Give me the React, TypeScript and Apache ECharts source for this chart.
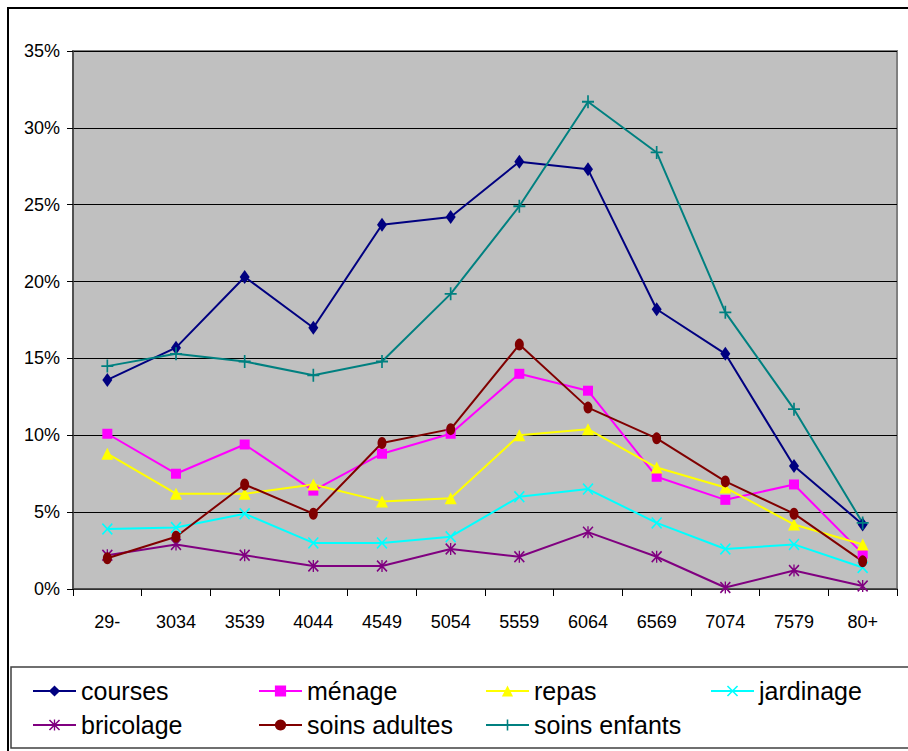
import React, { useEffect, useRef } from "react";
import * as echarts from "echarts";

const categories = ["29-", "3034", "3539", "4044", "4549", "5054", "5559", "6064", "6569", "7074", "7579", "80+"];
const courses = [13.6, 15.7, 20.3, 17.0, 23.7, 24.2, 27.8, 27.3, 18.2, 15.3, 8.0, 4.2];
const menage = [10.1, 7.5, 9.4, 6.4, 8.8, 10.1, 14.0, 12.9, 7.3, 5.8, 6.8, 2.3];
const repas = [8.8, 6.2, 6.2, 6.8, 5.7, 5.9, 10.0, 10.4, 7.9, 6.6, 4.2, 2.9];
const jardinage = [3.9, 4.0, 4.9, 3.0, 3.0, 3.4, 6.0, 6.5, 4.3, 2.6, 2.9, 1.4];
const bricolage = [2.2, 2.9, 2.2, 1.5, 1.5, 2.6, 2.1, 3.7, 2.1, 0.1, 1.2, 0.2];
const soinsAdultes = [2.0, 3.4, 6.8, 4.9, 9.5, 10.4, 15.9, 11.8, 9.8, 7.0, 4.9, 1.8];
const soinsEnfants = [14.5, 15.3, 14.8, 13.9, 14.8, 19.2, 24.9, 31.7, 28.4, 18.0, 11.7, 4.3];

const seriesNames = ["courses", "ménage", "repas", "jardinage", "bricolage", "soins adultes", "soins enfants"];
const seriesData = [courses, menage, repas, jardinage, bricolage, soinsAdultes, soinsEnfants];
const seriesColors = ["#000080", "#FF00FF", "#FFFF00", "#00FFFF", "#800080", "#800000", "#008080"];

const X_PATH = "path://M0,1L1,0L10,9L9,10ZM9,0L10,1L1,10L0,9Z";
const PLUS_PATH = "path://M4.3,0H5.7V4.3H10V5.7H5.7V10H4.3V5.7H0V4.3H4.3Z";
const STAR_PATH = "path://M0,1L1,0L10,9L9,10ZM9,0L10,1L1,10L0,9ZM4.4,0H5.6V10H4.4Z";
const seriesSymbols = ["diamond", "rect", "triangle", X_PATH, STAR_PATH, "circle", PLUS_PATH];
const seriesSymbolSizes: any[] = [[10, 14], [10, 10], [12, 12], [11, 12], [11, 12], [9, 12], [12, 13]];

const FONT = "'Liberation Sans', Arial, sans-serif";
const TICK_FONT = 18;
const LEGEND_FONT = 25;

const legendLefts = [32, 258, 485, 710, 32, 258, 485];
const legendCenters = [691, 691, 691, 691, 725, 725, 725];

export default function App() {
  const ref = useRef<HTMLDivElement>(null);
  useEffect(() => {
    if (!ref.current) return;
    const chart = echarts.init(ref.current, undefined, { renderer: "svg" });
    chart.setOption({
      animation: false,
      backgroundColor: "#FFFFFF",
      graphic: [
        {
          type: "rect",
          shape: { x: 8, y: 8, width: 1000, height: 1000 },
          style: { fill: "none", stroke: "#000000", lineWidth: 2 },
          silent: true,
        },
        {
          type: "rect",
          shape: { x: 11, y: 667, width: 1000, height: 81 },
          style: { fill: "none", stroke: "#404040", lineWidth: 1.5 },
          silent: true,
        },
      ],
      grid: {
        left: 73,
        top: 51,
        right: 11,
        bottom: 162,
        show: true,
        backgroundColor: "#C0C0C0",
        borderColor: "#808080",
        borderWidth: 2,
      },
      xAxis: {
        type: "category",
        data: categories,
        boundaryGap: true,
        axisLine: { show: true, lineStyle: { color: "#404040", width: 1.5 } },
        axisTick: { show: true, length: 7, lineStyle: { color: "#000000" } },
        axisLabel: { color: "#000000", fontSize: TICK_FONT, fontFamily: FONT, margin: 24 },
        splitLine: { show: false },
      },
      yAxis: {
        type: "value",
        min: 0,
        max: 35,
        interval: 5,
        axisLine: { show: true, lineStyle: { color: "#404040", width: 1.5 } },
        axisTick: { show: true, length: 6, lineStyle: { color: "#000000" } },
        axisLabel: { color: "#000000", fontSize: TICK_FONT, fontFamily: FONT, margin: 13, formatter: "{value}%" },
        splitLine: { show: true, lineStyle: { color: "#000000", width: 1.2 } },
      },
      legend: seriesNames.map((name, i) => ({
        data: [name],
        left: legendLefts[i],
        top: legendCenters[i] - LEGEND_FONT / 2,
        orient: "horizontal",
        itemWidth: 43,
        itemHeight: 14,
        itemGap: 0,
        padding: 0,
        selectedMode: false,
        textStyle: { fontSize: LEGEND_FONT, lineHeight: LEGEND_FONT, fontFamily: FONT, color: "#000000" },
      })),
      series: seriesNames.map((name, i) => ({
        name,
        type: "line",
        data: seriesData[i],
        symbol: seriesSymbols[i],
        symbolSize: seriesSymbolSizes[i],
        showAllSymbol: true,
        color: seriesColors[i],
        lineStyle: { color: seriesColors[i], width: 2 },
        itemStyle: { color: seriesColors[i], borderWidth: 0 },
        emphasis: { disabled: true },
      })),
    });
    return () => chart.dispose();
  }, []);
  return <div ref={ref} style={{ position: "fixed", left: 0, top: 0, width: 908, height: 751 }} />;
}
